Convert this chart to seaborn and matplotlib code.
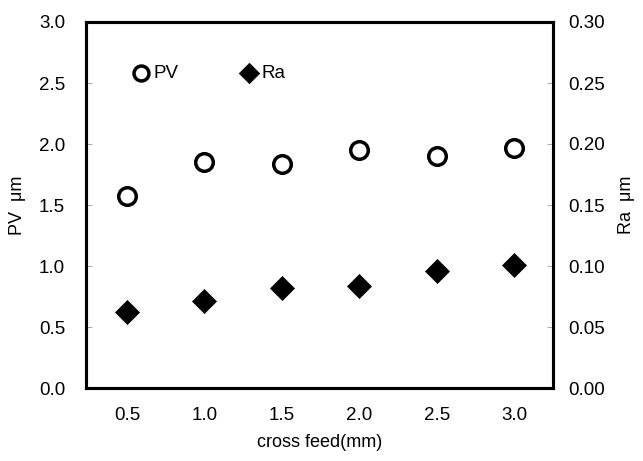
import matplotlib
matplotlib.use("Agg")
import matplotlib.pyplot as plt
import seaborn as sns
import pandas as pd

# Cross feed settings and measured roughness
cross_feed = [0.5, 1.0, 1.5, 2.0, 2.5, 3.0]
pv_um = [1.57, 1.85, 1.84, 1.95, 1.90, 1.97]
ra_um = [0.062, 0.071, 0.082, 0.084, 0.096, 0.101]

left_ticks = [0.0, 0.5, 1.0, 1.5, 2.0, 2.5, 3.0]
right_ticks = [0.00, 0.05, 0.10, 0.15, 0.20, 0.25, 0.30]
x_ticks = [0.5, 1.0, 1.5, 2.0, 2.5, 3.0]

df = pd.DataFrame({"cross feed": cross_feed, "PV": pv_um, "Ra": ra_um})

sns.set_theme(style="white")
plt.rcParams["font.family"] = ["Liberation Sans", "DejaVu Sans"]
plt.rcParams["text.color"] = "black"
plt.rcParams["axes.labelcolor"] = "black"

fig = plt.figure(figsize=(6.43, 4.61), dpi=100)
ax = fig.add_axes([86 / 643, 73 / 461, 467 / 643, 366 / 461])
ax2 = ax.twinx()

sns.scatterplot(data=df, x="cross feed", y="PV", ax=ax, marker="o", s=160,
                facecolor="white", edgecolor="black", linewidth=2.5, label="PV",
                legend=False, zorder=3)
sns.scatterplot(data=df, x="cross feed", y="Ra", ax=ax2, marker="D", s=150,
                color="black", edgecolor="black", linewidth=0.5, label="Ra",
                legend=False, zorder=3)

ax.set_xlim(0.235, 3.25)
ax.set_ylim(0, 3.0)
ax2.set_ylim(0, 0.30)
ax.set_xticks(x_ticks)
ax.set_xticklabels([f"{v:.1f}" for v in x_ticks])
ax.set_yticks(left_ticks)
ax.set_yticklabels([f"{v:.1f}" for v in left_ticks])
ax2.set_yticks(right_ticks)
ax2.set_yticklabels([f"{v:.2f}" for v in right_ticks])

for a in (ax, ax2):
    for side in ("left", "right", "top", "bottom"):
        a.spines[side].set_color("black")
        a.spines[side].set_linewidth(2.2)
    a.grid(False)

ax.tick_params(axis="y", direction="in", length=4, width=0.6, color="#999999",
               labelsize=13.5, pad=15, labelcolor="black")
ax.tick_params(axis="x", direction="in", length=4, width=0.6, color="#999999",
               labelsize=13.5, pad=14, labelcolor="black")
ax2.tick_params(axis="y", direction="in", length=4, width=0.6, color="#999999",
                labelsize=13.5, pad=11, labelcolor="black")

ax.set_xlabel("cross feed(mm)", fontsize=13, labelpad=7, color="black")
ax.set_ylabel("PV  μm", fontsize=13, labelpad=9, color="black")
ax2.set_ylabel("Ra  μm", fontsize=13, labelpad=9, color="black")

h1, l1 = ax.get_legend_handles_labels()
h2, l2 = ax2.get_legend_handles_labels()
leg = ax.legend(h1 + h2, l1 + l2, loc="upper left", bbox_to_anchor=(0.07, 0.93),
                ncol=2, frameon=False, fontsize=13.5, handlelength=0.6,
                handletextpad=0.36, columnspacing=3.48, markerscale=0.85)
for t in leg.get_texts():
    t.set_color("black")

fig.savefig("out.png", dpi=100)
